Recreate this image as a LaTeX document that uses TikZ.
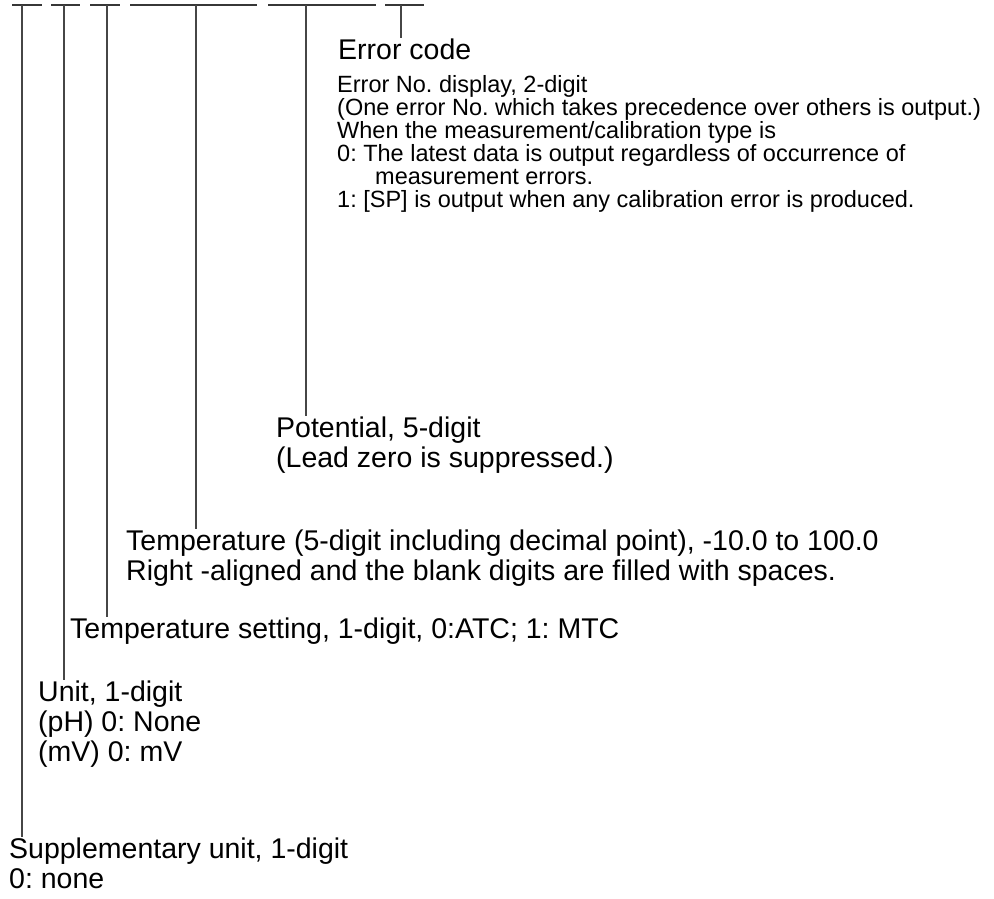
\documentclass[tikz,border=0pt]{standalone}
\usepackage{fontspec}
\setmainfont{Liberation Sans}
\usepackage{tikz}
\usetikzlibrary{positioning}
\definecolor{BarGray}{RGB}{55,55,55}
\definecolor{StemGray}{RGB}{70,70,70}
\frenchspacing

\begin{document}
\begin{tikzpicture}[x=1pt,y=-1pt,
  bar/.style={line width=2.6pt,BarGray},
  stem/.style={line width=1.1pt,StemGray},
  big/.style={anchor=base west,inner sep=0pt,align=left,font=\fontsize{28.5}{30}\selectfont},
  small/.style={anchor=base west,inner sep=0pt,align=left,font=\fontsize{23.5}{23}\selectfont}]
\useasboundingbox (0,0) rectangle (994,898);
% digit groups of the output string
\draw[bar] (12,5)--(42,5); \draw[bar] (51,5)--(80,5); \draw[bar] (90,5)--(120,5);
\draw[bar] (130,5)--(257,5); \draw[bar] (268,5)--(376,5); \draw[bar] (385,5)--(424,5);
\coordinate (sup) at (22,5); \coordinate (unit) at (64,5); \coordinate (tset) at (107,5);
\coordinate (temp) at (196,5); \coordinate (pot) at (306,5); \coordinate (err) at (401,5);
% labels (placed by the baseline of their last line)
\node[big] (errT) at (338,59) {Error code};
\node[small] (errD) at (337,207) {Error No. display, 2-digit\\(One error No. which takes precedence over others is output.)\\When the measurement/calibration type is\\0: The latest data is output regardless of occurrence of\\\hspace*{38pt}measurement errors.\\1: [SP] is output when any calibration error is produced.};
\node[big] (potT) at (276,467) {Potential, 5-digit\\(Lead zero is suppressed.)};
\node[big] (tempT) at (126,580) {Temperature (5-digit including decimal point), -10.0 to 100.0\\Right -aligned and the blank digits are filled with spaces.};
\node[big] (tsetT) at (70,638) {Temperature setting, 1-digit, 0:ATC; 1: MTC};
\node[big] (unitT) at (38,761) {Unit, 1-digit\\(pH) 0: None\\(mV) 0: mV};
\node[big] (supT) at (9,888) {Supplementary unit, 1-digit\\0: none};
% leader lines
\draw[stem] (sup)--(sup |- supT.north);
\draw[stem] (unit)--(unit |- unitT.north);
\draw[stem] (tset)--(tset |- tsetT.north);
\draw[stem] (temp)--(temp |- tempT.north);
\draw[stem] (pot)--(pot |- potT.north);
\draw[stem] (err)--(err |- errT.north);
\end{tikzpicture}
\end{document}
